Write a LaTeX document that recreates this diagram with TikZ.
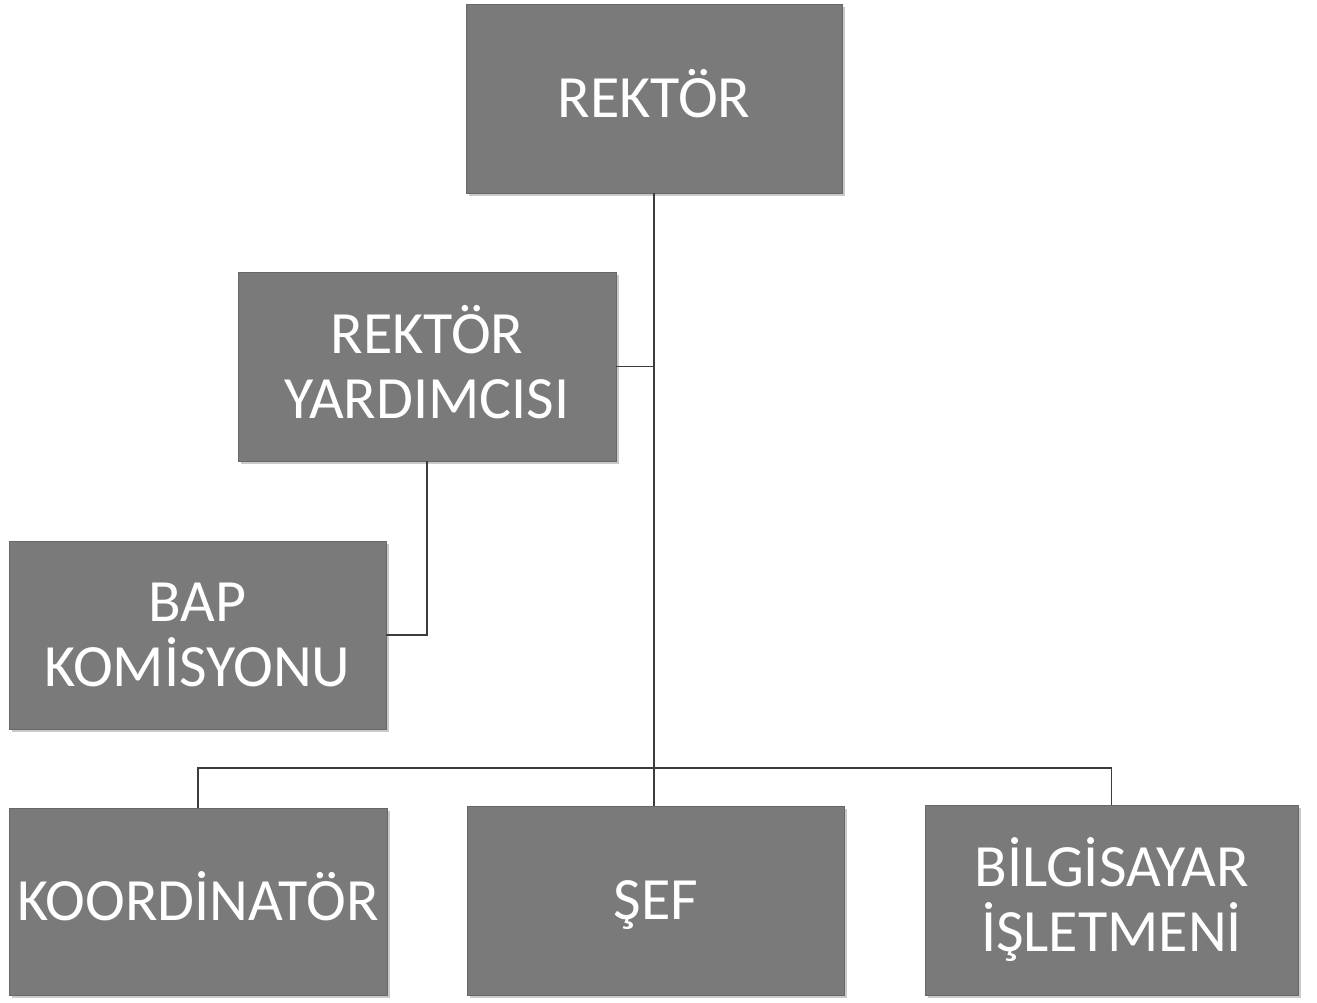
\documentclass[tikz,border=0pt]{standalone}
\usepackage{fontspec}
\setmainfont{Carlito}
\usetikzlibrary{shadows}
\definecolor{boxgray}{RGB}{122,122,122}
\definecolor{linegray}{RGB}{60,60,60}
\tikzset{
  orgbox/.style={rectangle, fill=boxgray, draw=boxgray!85!black, line width=0.6pt,
    text=white, align=center, inner sep=0pt,
    font=\fontsize{60}{65}\selectfont, text depth=0pt,
    drop shadow={shadow xshift=2.5pt, shadow yshift=-2.5pt, fill=black!35, opacity=0.6}},
  oneline/.style={orgbox, text height=38.6pt},
  twoline/.style={orgbox, text height=103.6pt},
  conn/.style={draw=linegray, line width=1.3pt}
}
\begin{document}
\begin{tikzpicture}[x=1pt,y=-1pt]
\useasboundingbox (0,0) rectangle (1317,1002);
\node[oneline, minimum width=376pt, minimum height=189pt] (rek) at (654,98.5) {REKTÖR};
\node[twoline, minimum width=378pt, minimum height=189pt] (ry) at (427,366.5) {REKTÖR\\YARDIMCISI};
\node[twoline, minimum width=377pt, minimum height=188pt] (bap) at (197.5,635) {BAP\\KOMİSYONU};
\node[oneline, minimum width=378pt, minimum height=187pt] (koo) at (198,901.5) {KOORDİNATÖR};
\node[oneline, minimum width=377pt, minimum height=189pt] (sef) at (656,900.5) {ŞEF};
\node[twoline, minimum width=373pt, minimum height=190pt] (bil) at (1111.5,900) {BİLGİSAYAR\\İŞLETMENİ};
\coordinate (bus) at (655,768);
\draw[conn] (rek.south) -- (rek.south |- sef.north);
\draw[conn] (ry.east) -- (ry.east -| rek.south);
\draw[conn] (ry.south) |- (bap.east);
\draw[conn] (koo.north) |- (bus) -| (bil.north);
\end{tikzpicture}
\end{document}
